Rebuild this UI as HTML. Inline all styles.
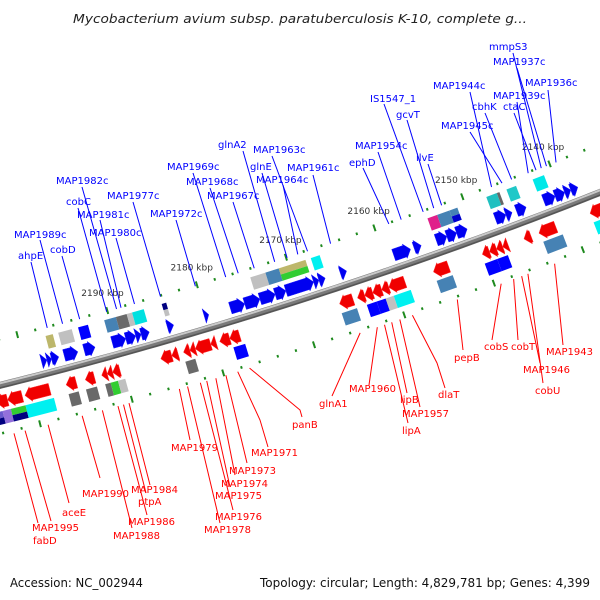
<!DOCTYPE html>
<html><head><meta charset="utf-8"><title>Genome map</title>
<style>
html,body{margin:0;padding:0;background:#fff;}
svg{display:block;}
text{font-family:"DejaVu Sans","Liberation Sans",sans-serif;}
</style></head>
<body>
<svg id="chart" width="600" height="600" viewBox="0 0 600 600" xmlns="http://www.w3.org/2000/svg">
<rect width="600" height="600" fill="#fff"/>
<text x="300" y="23" text-anchor="middle" font-style="italic" font-size="12" fill="#222" textLength="454" lengthAdjust="spacingAndGlyphs">Mycobacterium avium subsp. paratuberculosis K-10, complete g...</text>
<g id="backbone"></g>
<g id="ticks"></g>
<g id="genes"></g>
<g id="labels"></g>
<text x="10" y="587" font-size="12" fill="#111" textLength="133" lengthAdjust="spacingAndGlyphs">Accession: NC_002944</text>
<text x="260" y="587" font-size="12" fill="#111" textLength="330" lengthAdjust="spacingAndGlyphs">Topology: circular; Length: 4,829,781 bp; Genes: 4,399</text>
</svg>
<script>
// ---- data (kbp) ----
const fwdStart=[2198.2,2197.6,2197.1,2195.7,2193.5,2190.4,2188.9,2187.8,2187.2,2184.3,2180.2,2177.3,2175.7,2174.0,2172.3,2171.1,2168.0,2167.4,2165.0,2159.0,2156.7,2154.2,2153.0,2151.9,2147.5,2146.3,2145.1,2142.0,2140.7,2139.6,2138.9];
const fwdEnd=[2197.6,2197.1,2196.3,2194.2,2192.3,2188.9,2187.8,2187.2,2186.3,2183.6,2179.7,2175.7,2174.0,2172.3,2171.1,2168.0,2167.4,2166.7,2164.3,2157.1,2155.9,2153.0,2151.9,2150.7,2146.3,2145.6,2144.0,2140.7,2139.6,2138.9,2138.1];
const revStart=[2203.9,2202.7,2200.8,2196.3,2194.2,2192.4,2191.8,2191.2,2185.9,2184.7,2183.4,2182.7,2182.1,2180.4,2179.4,2178.3,2166.1,2164.1,2163.3,2162.4,2161.4,2160.6,2155.6,2150.1,2149.3,2148.5,2147.8,2145.4,2143.7,2137.9];
const revEnd=[2202.7,2201.1,2198.1,2195.2,2193.2,2191.8,2191.2,2190.4,2184.7,2184.0,2182.7,2182.1,2180.4,2179.8,2178.3,2177.2,2164.6,2163.3,2162.4,2161.4,2160.6,2158.8,2153.9,2149.3,2148.5,2147.8,2147.2,2144.6,2141.8,2136.2];
const upBoxStart=[2197.1,2195.7,2193.5,2190.6,2189.3,2188.1,2187.5,2184.2,2174.3,2172.6,2171.1,2167.5,2154.3,2153.2,2151.8,2147.6,2146.4,2145.3,2142.3];
const upBoxEnd=[2196.3,2194.2,2192.4,2189.3,2188.1,2187.5,2186.2,2183.7,2172.6,2171.1,2168.1,2166.5,2153.2,2151.8,2150.9,2146.4,2146.1,2144.2,2141.0];
const upBoxTop=["#bdb76b","#c0c0c0","#0000ff","#4682b4","#696969","#c0c0c0","#00e0e0","#000080","#c0c0c0","#4682b4","#bdb76b","#00f0f0","#e0208a","#4682b4","#4682b4","#20c0c0","#666666","#20c8c8","#00e8e8"];
const upBoxBot=["#bdb76b","#c0c0c0","#0000ff","#4682b4","#696969","#c0c0c0","#00e0e0","#c0c0c0","#c0c0c0","#4682b4","#32cd32","#00f0f0","#e0208a","#4682b4","#0000cc","#20c0c0","#666666","#20c8c8","#00e8e8"];
const loBoxStart=[2204.4,2203.5,2202.6,2201.0,2196.3,2194.4,2192.3,2191.7,2190.9,2183.5,2178.2,2166.2,2163.4,2162.3,2161.3,2160.4,2155.6,2150.2,2148.8,2143.6,2137.9];
const loBoxEnd=[2203.5,2202.6,2201.0,2197.9,2195.2,2193.2,2191.7,2190.9,2190.1,2182.4,2176.9,2164.5,2162.3,2161.3,2160.4,2158.5,2153.8,2148.8,2147.6,2141.4,2136.5];
const loBoxTop=["#6a5acd","#9370db","#32cd32","#00f0f0","#696969","#696969","#696969","#32cd32","#c0c0c0","#696969","#0000ff","#4682b4","#0000ff","#0000ff","#c0c0c0","#00f0f0","#4682b4","#0000ff","#0000ff","#4682b4","#00f0f0"];
const loBoxBot=["#000080","#9370db","#000080","#00f0f0","#696969","#696969","#696969","#32cd32","#c0c0c0","#696969","#0000ff","#4682b4","#0000ff","#0000ff","#c0c0c0","#00f0f0","#4682b4","#0000ff","#0000ff","#4682b4","#00f0f0"];
const tickKbp=[2130,2132,2134,2136,2138,2140,2142,2144,2146,2148,2150,2152,2154,2156,2158,2160,2162,2164,2166,2168,2170,2172,2174,2176,2178,2180,2182,2184,2186,2188,2190,2192,2194,2196,2198,2200,2202,2204,2206,2208];
const tickLabelKbp=[2140,2150,2160,2170,2180,2190];
const tickLabelText=["2140 kbp","2150 kbp","2160 kbp","2170 kbp","2180 kbp","2190 kbp"];
// upper (blue) labels
const upName=["MAP1989c","ahpE","cobD","cobC","MAP1982c","MAP1981c","MAP1980c","MAP1977c","MAP1972c","MAP1969c","MAP1968c","MAP1967c","glnA2","glnE","MAP1963c","MAP1964c","MAP1961c","ephD","MAP1954c","IS1547_1","gcvT","ilvE","MAP1944c","MAP1945c","cbhK","MAP1939c","ctaC","mmpS3","MAP1937c","MAP1936c"];
const upTX=[14,18,50,66,56,77,89,107,150,167,186,207,218,250,253,256,287,349,355,370,396,416,433,441,472,493,503,489,493,525];
const upTY=[238,259,253,205,184,218,236,199,217,170,185,199,148,170,153,183,171,166,149,102,118,161,89,129,110,99,110,50,65,86];
const upAX=[40,31,62,78,82,100,116,133,176,193,210,233,243,262,272,283,313,363,378,384,407,428,470,470,485,517,514,513,517,548];
const upAY=[240,262,256,208,187,220,238,202,220,173,188,202,151,173,156,185,175,168,152,104,120,164,92,132,113,102,113,53,68,90];
const upKbp=[2195.0,2196.7,2193.1,2190.1,2189.0,2188.5,2187.0,2184.1,2180.2,2176.8,2175.4,2173.6,2171.3,2169.9,2167.6,2168.7,2165.0,2158.4,2157.0,2154.5,2153.3,2152.4,2146.7,2145.5,2144.4,2142.5,2141.6,2141.0,2140.4,2139.3];
// lower (red) labels
const loName=["MAP1995","fabD","aceE","MAP1990","MAP1988","MAP1986","ptpA","MAP1984","MAP1979","MAP1978","MAP1976","MAP1975","MAP1974","MAP1973","MAP1971","panB","glnA1","MAP1960","lipA","lipB","MAP1957","dlaT","pepB","cobS","cobT","MAP1946","cobU","MAP1943"];
const loTX=[32,33,62,82,113,128,138,131,171,204,215,215,221,229,251,292,319,349,402,400,402,438,454,484,511,523,535,546];
const loTY=[531,544,516,497,539,525,505,493,451,533,520,499,487,474,456,428,407,392,434,403,417,398,361,350,350,373,394,355];
const loAX=[38,51,69,100,132,147,146,150,190,220,233,230,235,247,268,302,332,369,408,407,420,445,463,492,518,540,543,563];
const loAY=[523,521,503,478,528,515,493,485,440,523,510,487,475,463,447,417,396,385,423,393,407,388,350,340,340,363,383,345];
const loKinkX=[null,null,null,null,null,null,null,null,null,null,null,null,null,null,260,300,null,null,null,null,null,437,null,null,null,null,null,null];
const loKinkY=[null,null,null,null,null,null,null,null,null,null,null,null,null,null,420,410,null,null,null,null,null,363,null,null,null,null,null,null];
const loKbp=[2202.9,2201.7,2199.2,2195.5,2193.3,2191.6,2191.0,2190.4,2184.9,2184.0,2182.6,2181.9,2180.9,2179.8,2178.5,2177.2,2165.0,2163.1,2162.3,2161.5,2160.6,2159.2,2154.2,2149.3,2147.9,2147.0,2146.3,2143.3];

// ---- geometry ----
const NS="http://www.w3.org/2000/svg";
const CX=-1145, CY=-4205, R0=4731;
function ang(k){return (74.5+(k-2190)*0.114)*Math.PI/180;}
function pt(k,d){const a=ang(k), r=R0+d; return [CX+r*Math.cos(a), CY+r*Math.sin(a)];}
function P(arr){return arr.map(p=>p[0].toFixed(2)+","+p[1].toFixed(2)).join(" ");}
function mk(tag,attrs,parent){const e=document.createElementNS(NS,tag);for(const k in attrs)e.setAttribute(k,attrs[k]);parent.appendChild(e);return e;}

// backbone
const gB=document.getElementById('backbone');
const bbK=[];for(let k=2125;k<=2215;k+=1)bbK.push(k);
const bbLine=mk('polyline',{points:P(bbK.map(k=>pt(k,0))),fill:'none',stroke:'#7a7a7a','stroke-width':7},gB);


const bbHi=mk('polyline',{points:P(bbK.map(k=>pt(k,-2))),fill:'none',stroke:'#c8c8c8','stroke-width':2},gB);


const bbSh=mk('polyline',{points:P(bbK.map(k=>pt(k,2.5))),fill:'none',stroke:'#555','stroke-width':1.5},gB);



// ticks
const gT=document.getElementById('ticks');
tickKbp.forEach(k=>{
  const major=(k%10===0), L=major?3.5:1.3;
  [-45,47].forEach(d=>{
    const a=pt(k,d-L), b=pt(k,d+L);
    const t=mk('line',{x1:a[0],y1:a[1],x2:b[0],y2:b[1],stroke:'#1e8a1e','stroke-width':2},gT);
    
    
  });
});
tickLabelKbp.forEach((k,i)=>{
  const p=pt(k,-63);
  const t=mk('text',{x:p[0],y:p[1]+3,'text-anchor':'middle','font-size':9,fill:'#333'},gT);
  t.textContent=tickLabelText[i];
  
  
});

// genes
const gG=document.getElementById('genes');
function fwdArrow(a,b,d,h){
  const hl=Math.min(a-b,0.65), t=d-h/2, bo=d+h/2;
  return [pt(a,t),pt(b+hl,t),pt(b+hl,t-1.5),pt(b,d),pt(b+hl,bo+1.5),pt(b+hl,bo),pt(a,bo)];
}
function revArrow(a,b,d,h){
  const hl=Math.min(a-b,0.65), t=d-h/2, bo=d+h/2;
  return [pt(b,t),pt(a-hl,t),pt(a-hl,t-1.5),pt(a,d),pt(a-hl,bo+1.5),pt(a-hl,bo),pt(b,bo)];
}
fwdStart.forEach((s,i)=>{
  const e=mk('polygon',{points:P(fwdArrow(s,fwdEnd[i],-13,12)),fill:'#0000f0',stroke:'#2020ff','stroke-width':0.5},gG);
  
  
});
revStart.forEach((s,i)=>{
  const e=mk('polygon',{points:P(revArrow(s,revEnd[i],16,12)),fill:'#f00000',stroke:'#ff3030','stroke-width':0.5},gG);
  
  
});
function box(a,b,d,h,c1,c2,name){
  const t=d-h/2,m=d,bo=d+h/2;
  if(c1===c2){
    const e=mk('polygon',{points:P([pt(a,t),pt(b,t),pt(b,bo),pt(a,bo)]),fill:c1},gG);
    
    
  } else {
    const e1=mk('polygon',{points:P([pt(a,t),pt(b,t),pt(b,m),pt(a,m)]),fill:c1},gG);
    
    
    const e2=mk('polygon',{points:P([pt(a,m),pt(b,m),pt(b,bo),pt(a,bo)]),fill:c2},gG);
    
    
  }
}
upBoxStart.forEach((s,i)=>box(s,upBoxEnd[i],-30,13,upBoxTop[i],upBoxBot[i],'forward-cog-box'));
loBoxStart.forEach((s,i)=>box(s,loBoxEnd[i],32,13,loBoxTop[i],loBoxBot[i],'reverse-cog-box'));

// labels
const gL=document.getElementById('labels');
upName.forEach((n,i)=>{
  const g=pt(upKbp[i],-44);
  const l=mk('line',{x1:upAX[i],y1:upAY[i],x2:g[0],y2:g[1],stroke:'#0000ff','stroke-width':1},gL);
  
  
  const t=mk('text',{x:upTX[i],y:upTY[i],'font-size':10,fill:'#0000ff'},gL);
  t.textContent=n;
  
  
});
loName.forEach((n,i)=>{
  const g=pt(loKbp[i],50);
  const pts=[g];
  if(loKinkX[i]!==null)pts.push([loKinkX[i],loKinkY[i]]);
  pts.push([loAX[i],loAY[i]]);
  const l=mk('polyline',{points:P(pts),fill:'none',stroke:'#ff0000','stroke-width':1},gL);
  
  
  const t=mk('text',{x:loTX[i],y:loTY[i],'font-size':10,fill:'#ff0000'},gL);
  t.textContent=n;
  
  
});
</script>
</body></html>
